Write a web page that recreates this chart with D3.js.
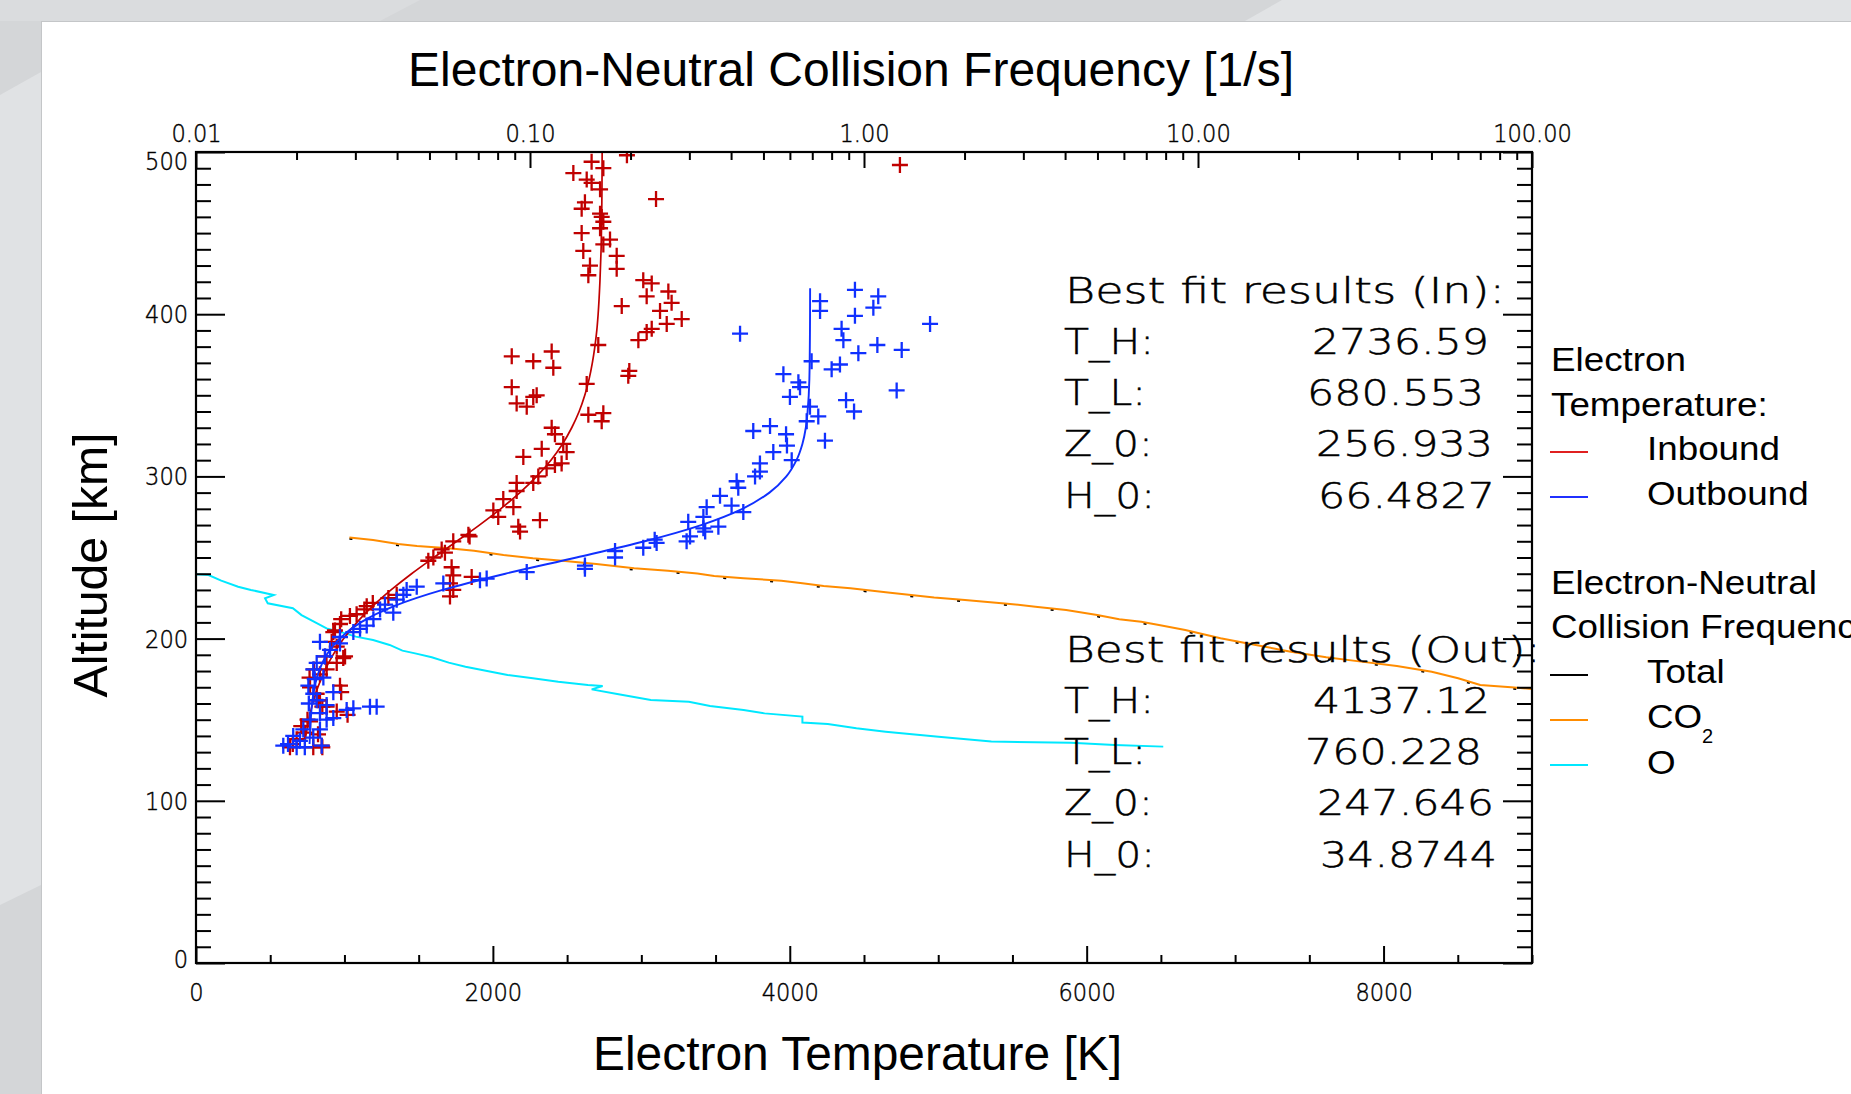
<!DOCTYPE html>
<html><head><meta charset="utf-8">
<script src="https://cdn.jsdelivr.net/npm/d3@7"></script>
<style>
html,body{margin:0;padding:0;background:#d4d6d8;overflow:hidden;}
svg{display:block;}
</style></head><body>
<svg id="c" width="1851" height="1094"></svg>
<script>
// ---------------- DATA ----------------
// Electron temperature measurements [T (K), altitude (km)]
const inboundPoints = [
 [2903,498],[2665,494],[2744,490],[2542,487],[2632,483],[2665,481],[2722,477],[3099,471],[2620,469],[2598,465],
 [2722,462],[2733,460],[2744,457],[2722,453],[2598,450],[2789,446],[2744,443],[2609,439],[2834,436],[2654,430],
 [2834,428],[2643,424],[3013,421],[3070,419],[3182,414],[3036,411],[3204,407],[2868,405],[3126,402],[3272,397],
 [3171,394],[3070,391],[3036,389],[2980,384],[2710,381],[2396,377],[2127,374],[2272,371],[2407,367],[2919,365],
 [2912,362],[2632,357],[2127,355],[2295,350],[2272,349],[2160,345],[2228,343],[2744,339],[2643,338],[2733,334],
 [2396,330],[2418,326],[2474,320],[2329,317],[2497,315],[2205,312],[2463,308],[2418,307],[2362,305],[2306,300],
 [2272,296],[2160,296],[2160,291],[2070,286],[2138,281],[2003,279],[2036,275],[2317,273],[4742,492],
 [2171,269],[2183,266],[1835,264],[1733,260],[1843,263],[1655,255],[1599,250],[1565,248],[1677,253],[1722,244],
 [1733,239],[1857,238],[1711,234],[1733,230],[1711,226],[1352,227],[1296,225],[1191,222],[1150,220],[1134,218],
 [1082,215],[1037,214],[978,212],[970,209],[936,205],[925,204],[914,198],[948,195],[1004,189],[992,188],
 [948,185],[879,185],[880,181],[794,181],[835,178],[765,176],[768,170],[970,171],[978,167],[835,162],
 [822,162],[851,158],[1021,153],[948,155],[768,149],[751,150],[709,146],[734,142],[822,141],[678,138],
 [652,135],[633,133],[790,133],[847,134],[851,133],[880,158],[813,166],[869,189]
];
const outboundPoints = [
 [4439,415],[4596,411],[4204,408],[4204,402],[4563,404],[4439,399],[4945,394],[4349,391],[4361,384],[3665,388],
 [4590,381],[4754,378],[4462,376],[4147,371],[4338,369],[4282,366],[3957,363],[4058,358],[4069,355],[4001,349],
 [4720,353],[4379,347],[4433,340],[4136,343],[4192,337],[4114,334],[4237,322],[3754,328],[3867,331],[3975,326],
 [3981,319],[3889,315],[4013,310],[3799,308],[3799,303],[3766,300],[3642,297],[3653,293],[3530,288],[3608,282],
 [3687,278],[3440,281],[3418,275],[3316,272],[3519,269],[3418,268],[3328,263],[3305,260],[3103,259],[3013,256],
 [2823,254],[2823,250],[3090,261],[3430,266],
 [2620,245],[2620,243],[2228,241],[1958,237],[1913,236],[1666,234],[1487,232],[1419,230],[1397,227],[1352,224],
 [1273,221],[1329,216],[1240,218],[1195,212],[1150,208],[1105,206],[1060,204],[970,201],[835,198],[970,197],
 [903,193],[869,189],[813,185],[790,181],[757,171],[858,176],[790,166],[925,167],[813,162],[880,159],
 [1015,156],[1060,157],[1172,158],[1217,158],[835,154],[768,150],[880,150],[723,144],[835,144],[655,140],
 [790,139],[588,134],[678,133],[733,133],[847,134],[925,151],[800,175],[760,160],[700,137],[620,135]
];
// Fitted profiles [T (K), altitude (km)]
const inboundFit = [
 [732,135],[740,140],[760,150],[786,160],[821,170],[866,180],[923,190],[995,200],[1084,210],[1190,220],
 [1314,230],[1452,240],[1602,250],[1757,260],[1909,270],[2052,280],[2182,290],[2295,300],[2391,310],[2469,320],
 [2531,330],[2581,340],[2619,350],[2648,360],[2670,370],[2687,380],[2700,390],[2709,400],[2721,420],[2729,440],
 [2733,460],[2735,480],[2736,500]
];
const outboundFit = [
 [765,135],[773,150],[782,160],[799,170],[829,180],[880,190],[967,200],[1110,210],[1334,220],[1661,230],
 [2084,240],[2563,250],[3023,260],[3403,270],[3681,280],[3863,290],[3977,300],[4045,310],[4085,320],[4108,330],
 [4120,340],[4132,360],[4136,390],[4137,416]
];
// Collision frequencies [nu (1/s), altitude (km)]
const co2Freq = [
 [0.0288,262.4],[0.0339,260.8],[0.0403,258.3],[0.0459,257.1],[0.0571,255.7],[0.068,254.2],[0.0833,251.5],[0.102,249.5],
 [0.125,248],[0.158,246],[0.205,243.3],[0.259,241.9],[0.317,240.2],[0.356,238.6],[0.436,237.2],[0.566,235.7],
 [0.654,234.1],[0.757,232.4],[0.911,231],[1.198,228.3],[1.622,225.4],[2.006,223.8],[2.636,221.7],[3.26,219.7],
 [4.03,217.6],[4.99,214.5],[5.81,211.9],[6.76,210.4],[7.64,208.4],[9.16,205.3],[11.68,200.2],[14.89,196.1],
 [18.97,191.9],[24.2,188.5],[30.8,185.8],[39.4,183.1],[50.1,179.6],[60.1,175.5],[70.0,171.4],[86.6,170],[100,169]
];
const totalFreq = [
 [0.0288,262.4],[0.0339,260.8],[0.0403,258.3],[0.0459,257.1],[0.0571,255.7],[0.068,254.2],[0.0833,251.5],[0.102,249.5],
 [0.125,248],[0.158,246],[0.205,243.3],[0.259,241.9],[0.317,240.2],[0.356,238.6],[0.436,237.2],[0.566,235.7],
 [0.654,234.1],[0.757,232.4],[0.911,231],[1.198,228.3],[1.622,225.4],[2.006,223.8],[2.636,221.7],[3.26,219.7],
 [4.03,217.6],[4.99,214.5],[5.81,211.9],[6.76,210.4],[7.64,208.4],[9.16,205.3],[11.68,200.2],[14.89,196.1],
 [18.97,191.9],[24.2,188.5],[30.8,185.8],[39.4,183.1],[50.1,179.6],[60.1,175.5],[70.0,171.4],[86.6,170],[100,169]
];
const oFreq = [
 [0.0100,239.6],[0.0109,239.2],[0.0119,235.7],[0.01337,232],[0.0146,230],[0.0171,226.9],[0.0161,224.8],[0.0164,221.8],
 [0.0195,218.7],[0.0207,214.5],[0.02254,210.4],[0.0246,206.3],[0.0269,204.3],[0.0301,201.2],[0.0339,199.1],[0.038,196.1],
 [0.0415,192.6],[0.0453,190.9],[0.0508,188.5],[0.0571,185.2],[0.0641,182.7],[0.0764,179.6],[0.0857,177.6],[0.102,175.5],
 [0.1215,173.4],[0.149,171.4],[0.165,170.8],[0.153,168.7],[0.1824,165.8],[0.23,162.1],[0.299,161.1],[0.346,158.4],
 [0.436,156],[0.504,153.9],[0.654,151.9],[0.654,148.2],[0.779,147.4],[0.949,144.7],[1.161,142.6],[1.672,139.5],
 [2.406,136.5],[4.16,135.8],[5.63,134.4],[7.87,133.4]
];
// Axes ticks
const altMajorTicks = [0,100,200,300,400,500];
const tempMajorTicks = [0,2000,4000,6000,8000];
const freqMajorTicks = [0.01,0.1,1,10,100];
// Text
const fitInLines = [["T_H:","2736.59"],["T_L:","680.553"],["Z_0:","256.933"],["H_0:","66.4827"]];
const fitOutLines = [["T_H:","4137.12"],["T_L:","760.228"],["Z_0:","247.646"],["H_0:","34.8744"]];
const legendTempItems = ["Inbound","Outbound"];
const legendFreqItems = ["Total","CO","O"];

// ---------------- LAYOUT ----------------
const L = 196, R = 1532, T = 152, B = 963;
const svg = d3.select("#c");
const x = d3.scaleLinear().domain([0,9000]).range([L,R]);
const xTop = d3.scaleLog().domain([0.01,100]).range([L,R]);
const y = d3.scaleLinear().domain([0,500]).range([B,T]);

const C = {red:"#c00000", blue:"#1030ff", cyan:"#00e8ff", orange:"#ff8c00", black:"#000",
  legRed:"#e02020", legBlue:"#2030ff"};
const tickFont = "'DejaVu Sans', sans-serif";
const sansFont = "'Liberation Sans', Arial, sans-serif";

// background
svg.append("rect").attr("width",1851).attr("height",1094).attr("fill","#d4d6d8");
svg.append("polygon").attr("points","0,95 41,72 41,885 0,905").attr("fill","#e0e2e4");
svg.append("polygon").attr("points","1245,21 1282,0 1851,0 1851,21").attr("fill","#e1e3e5");
svg.append("polygon").attr("points","0,0 420,0 380,21 0,21").attr("fill","#dadcde");
svg.append("rect").attr("x",41.5).attr("y",21.5).attr("width",1812).attr("height",1075)
  .attr("fill","#fff").attr("stroke","#c4c6c8").attr("stroke-width",1);

// clip
svg.append("clipPath").attr("id","pc").append("rect")
  .attr("x",L).attr("y",T).attr("width",R-L).attr("height",B-T);
const plot = svg.append("g").attr("clip-path","url(#pc)");

// collision frequency lines
const fLine = d3.line().x(d=>xTop(d[0])).y(d=>y(d[1]));
plot.append("path").datum(oFreq).attr("d",fLine).attr("fill","none").attr("stroke",C.cyan).attr("stroke-width",2);
plot.append("path").datum(totalFreq).attr("d",fLine).attr("fill","none").attr("stroke",C.black).attr("stroke-width",2)
  .attr("transform","translate(0,1.3)").attr("stroke-dasharray","3 44");
plot.append("path").datum(co2Freq).attr("d",fLine).attr("fill","none").attr("stroke",C.orange).attr("stroke-width",2);

// data crosses
const crossPath = "M-8,0H8M0,-8V8";
function crosses(data,color){
  plot.append("g").selectAll("path").data(data).join("path")
    .attr("transform",d=>`translate(${x(d[0])},${y(d[1])})`)
    .attr("d",crossPath).attr("stroke",color).attr("stroke-width",2.3).attr("fill","none");
}
const tLine = d3.line().x(d=>x(d[0])).y(d=>y(d[1])).curve(d3.curveMonotoneY);
crosses(inboundPoints,C.red);
plot.append("path").datum(inboundFit).attr("d",tLine).attr("fill","none").attr("stroke",C.red).attr("stroke-width",1.7);
crosses(outboundPoints,C.blue);
plot.append("path").datum(outboundFit).attr("d",tLine).attr("fill","none").attr("stroke",C.blue).attr("stroke-width",1.9);

// ---------------- AXES ----------------
function styleAxis(g){
  g.select(".domain").remove();
  g.selectAll("line").attr("stroke","#000").attr("stroke-width",2);
  g.selectAll("text").attr("fill","#000").attr("font-family",tickFont).attr("font-weight",200).attr("font-size",25)
    .attr("stroke","#000").attr("stroke-width",0.45)
    .each(function(){ const w=this.getComputedTextLength(); d3.select(this).attr("textLength",w*0.9).attr("lengthAdjust","spacingAndGlyphs"); });
}
const altMinor = d3.range(0,501,10).filter(v=>v%100!==0);
const tempMinor = d3.range(0,9001,500).filter(v=>v%2000!==0);
const freqMinor = xTop.ticks().filter(v=>!freqMajorTicks.some(m=>Math.abs(m-v)/m<1e-6));

// left
svg.append("g").attr("transform",`translate(${L},0)`)
  .call(d3.axisLeft(y).tickValues(altMinor).tickSizeInner(-15).tickSizeOuter(0).tickFormat(""))
  .call(styleAxis);
const gl = svg.append("g").attr("transform",`translate(${L},0)`)
  .call(d3.axisLeft(y).tickValues(altMajorTicks).tickSizeInner(-29).tickSizeOuter(0).tickPadding(8).tickFormat(d3.format("d")))
  .call(styleAxis);
gl.selectAll("text").attr("dy",d=> d===500? "0.68em" : d===0 ? "0.16em" : "0.34em");
// right
svg.append("g").attr("transform",`translate(${R},0)`)
  .call(d3.axisRight(y).tickValues(altMinor).tickSizeInner(-15).tickSizeOuter(0).tickFormat(""))
  .call(styleAxis);
svg.append("g").attr("transform",`translate(${R},0)`)
  .call(d3.axisRight(y).tickValues(altMajorTicks).tickSizeInner(-29).tickSizeOuter(0).tickFormat(""))
  .call(styleAxis);
// bottom
svg.append("g").attr("transform",`translate(0,${B})`)
  .call(d3.axisBottom(x).tickValues(tempMinor).tickSizeInner(-8).tickSizeOuter(0).tickFormat(""))
  .call(styleAxis);
svg.append("g").attr("transform",`translate(0,${B})`)
  .call(d3.axisBottom(x).tickValues(tempMajorTicks).tickSizeInner(-17).tickSizeOuter(0).tickPadding(20).tickFormat(d3.format("d")))
  .call(styleAxis);
// top
svg.append("g").attr("transform",`translate(0,${T})`)
  .call(d3.axisTop(xTop).tickValues(freqMinor).tickSizeInner(-8).tickSizeOuter(0).tickFormat(""))
  .call(styleAxis);
svg.append("g").attr("transform",`translate(0,${T})`)
  .call(d3.axisTop(xTop).tickValues(freqMajorTicks).tickSizeInner(-16).tickSizeOuter(0).tickPadding(10).tickFormat(d3.format(".2f")))
  .call(styleAxis);
// frame
svg.append("rect").attr("x",L).attr("y",T).attr("width",R-L).attr("height",B-T)
  .attr("fill","none").attr("stroke","#000").attr("stroke-width",2.2);

// ---------------- TITLES ----------------
svg.append("text").attr("x",408).attr("y",86).attr("font-family",sansFont).attr("font-size",48)
  .attr("textLength",886).attr("lengthAdjust","spacingAndGlyphs").text("Electron-Neutral Collision Frequency [1/s]");
svg.append("text").attr("x",593).attr("y",1070).attr("font-family",sansFont).attr("font-size",48)
  .attr("textLength",529).attr("lengthAdjust","spacingAndGlyphs").text("Electron Temperature [K]");
svg.append("text").attr("transform","translate(107,565) rotate(-90)").attr("text-anchor","middle")
  .attr("font-family",sansFont).attr("font-size",48)
  .attr("textLength",265).attr("lengthAdjust","spacingAndGlyphs").text("Altitude [km]");

// ---------------- FIT RESULTS ----------------
function fitBlock(title, titleLen, y0, lines, valX, labLen){
  const g = svg.append("g").attr("font-family",tickFont).attr("font-weight",200).attr("font-size",35)
    .attr("fill","#000").attr("stroke","#000").attr("stroke-width",0.5);
  g.append("text").attr("x",1065).attr("y",y0).attr("textLength",titleLen).attr("lengthAdjust","spacingAndGlyphs").text(title);
  lines.forEach((ln,i)=>{
    const yy = y0 + 51*(i+1) + (i===3?1:0);
    g.append("text").attr("x",1064).attr("y",yy).attr("textLength",labLen[i]).attr("lengthAdjust","spacingAndGlyphs").text(ln[0]);
    g.append("text").attr("x",valX[i]).attr("y",yy).attr("textLength",177).attr("lengthAdjust","spacingAndGlyphs").text(ln[1]);
  });
}
fitBlock("Best fit results (In):",440,303,fitInLines,[1312,1307,1316,1318],[90,82,89,91]);
fitBlock("Best fit results (Out):",476,662,fitOutLines,[1313,1305,1317,1320],[90,82,89,91]);

// ---------------- LEGEND ----------------
const leg = svg.append("g").attr("font-family",sansFont).attr("font-size",33).attr("fill","#000");
function legText(xx,yy,s){
  const t = leg.append("text").attr("x",xx).attr("y",yy).text(s);
  const w = t.node().getComputedTextLength();
  t.attr("textLength",w*1.115).attr("lengthAdjust","spacingAndGlyphs");
  return t;
}
function legLine(yy,color){
  leg.append("line").attr("x1",1550).attr("x2",1588).attr("y1",yy).attr("y2",yy).attr("stroke",color).attr("stroke-width",2);
}
legText(1551,371,"Electron");
legText(1551,416,"Temperature:");
legLine(452,C.legRed); legText(1647,460,legendTempItems[0]);
legLine(497,C.legBlue); legText(1647,505,legendTempItems[1]);
legText(1551,594,"Electron-Neutral");
legText(1551,638,"Collision Frequency");
legLine(675,C.black); legText(1647,683,legendFreqItems[0]);
legLine(720,C.orange); legText(1647,728,legendFreqItems[1]);
leg.append("text").attr("x",1702).attr("y",743).attr("font-size",20).text("2");
legLine(765,C.cyan); legText(1647,774,legendFreqItems[2]);
</script>
</body></html>
